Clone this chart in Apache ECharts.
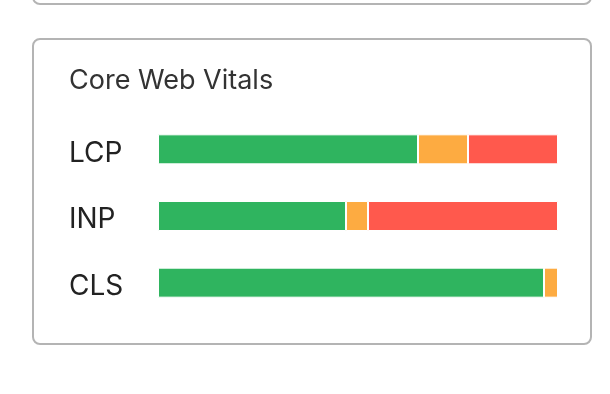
<!DOCTYPE html>
<html>
<head>
<meta charset="utf-8">
<script src="https://cdn.jsdelivr.net/npm/echarts@6/dist/echarts.min.js"></script>
<style>
html,body{margin:0;padding:0;background:#fff;}
#chart{width:610px;height:394px;}
</style>
</head>
<body>
<div id="chart"></div>
<script>
const title = 'Core Web Vitals';
const metrics = ['LCP', 'INP', 'CLS'];
const good = [65, 47, 96.5];
const needsImprovement = [12.5, 5.5, 3.5];
const poor = [22.5, 47.5, 0];

const chart = echarts.init(document.getElementById('chart'));
const seg = (name, data, color) => ({
  name, type: 'bar', stack: 'total', data, barWidth: 30,
  itemStyle: { color, borderColor: '#fff', borderWidth: 1 },
  silent: true
});
chart.setOption({
  animation: false,
  backgroundColor: '#fff',
  graphic: [
    { type: 'rect', shape: { x: 33, y: -100, width: 558, height: 104, r: 7 },
      style: { fill: 'none', stroke: '#b4b4b4', lineWidth: 2 }, z: -1 },
    { type: 'rect', shape: { x: 33, y: 39, width: 558, height: 305, r: 7 },
      style: { fill: 'none', stroke: '#b4b4b4', lineWidth: 2 }, z: -1 }
  ],
  title: {
    text: title, left: 64, top: 62,
    textStyle: { fontFamily: 'Inter', fontSize: 27, fontWeight: 'normal', color: '#333' }
  },
  grid: { left: 158, right: 52, top: 116, bottom: 394 - 316 },
  xAxis: { type: 'value', min: 0, max: 100, show: false },
  yAxis: {
    type: 'category', data: metrics, inverse: true,
    axisLine: { show: false }, axisTick: { show: false },
    axisLabel: {
      align: 'left', margin: 89,
      formatter: v => '{m|' + v + '}',
      rich: { m: { fontFamily: 'Inter', fontSize: 28, color: '#222', padding: [8, 0, 0, 0] } }
    }
  },
  series: [
    seg('Good', good, '#2fb45f'),
    seg('Needs improvement', needsImprovement, '#fdab41'),
    seg('Poor', poor, '#ff594d')
  ]
});
</script>
</body>
</html>
